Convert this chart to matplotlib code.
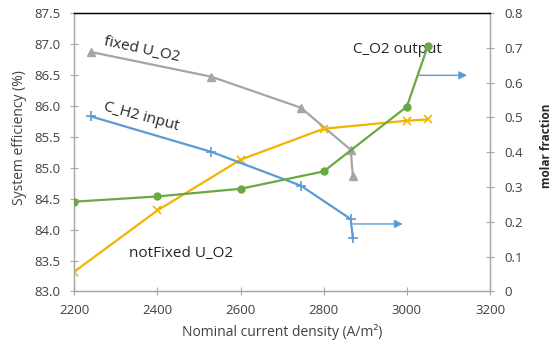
import matplotlib.pyplot as plt

plt.rcParams['font.family'] = ['Open Sans', 'DejaVu Sans']

# current density (A/m2) and values
x_fixed = [2240, 2530, 2745, 2865, 2870]
eff_fixed = [86.87, 86.47, 85.97, 85.29, 84.87]

x_notfixed = [2200, 2400, 2600, 2800, 3000, 3050]
eff_notfixed = [83.32, 84.31, 85.13, 85.63, 85.76, 85.78]

x_h2 = [2240, 2530, 2745, 2865, 2870]
c_h2 = [0.503, 0.401, 0.304, 0.208, 0.153]

x_o2 = [2200, 2400, 2600, 2800, 3000, 3050]
c_o2 = [0.258, 0.273, 0.295, 0.345, 0.531, 0.704]

# arrows pointing to the right axis: (x start, x end, y)
arrows = [(2870, 2990, 0.194), (3029, 3145, 0.621)]

gray = '#A5A5A5'
blue = '#5B9BD5'
gold = '#F2B400'
green = '#6AA843'
axis_gray = '#A6A6A6'

fig = plt.figure(figsize=(5.56, 3.47), dpi=100)
ax = fig.add_axes([0.1336, 0.16, 0.7477, 0.8025])
ax2 = ax.twinx()

ax.plot(x_fixed, eff_fixed, color=gray, lw=1.6, marker='^', ms=5.5, zorder=3)
ax.plot(x_notfixed, eff_notfixed, color=gold, lw=1.6, marker='x', ms=6, mew=1.2, zorder=3)
ax2.plot(x_h2, c_h2, color=blue, lw=1.6, marker='+', ms=7, mew=1.2, zorder=3)
ax2.plot(x_o2, c_o2, color=green, lw=1.6, marker='o', ms=5, zorder=3)

for x0, x1, yy in arrows:
    ax2.annotate('', xy=(x1, yy), xytext=(x0, yy),
                 arrowprops=dict(arrowstyle='-|>', color=blue, lw=1.0,
                                 mutation_scale=12, shrinkA=0, shrinkB=0))

ax.set_xlim(2200, 3200)
ax.set_ylim(83.0, 87.5)
ax2.set_ylim(0, 0.8)
ax.set_xticks(range(2200, 3201, 200))
ax.set_yticks([83.0 + 0.5 * i for i in range(10)])
ax.set_yticklabels([f'{83.0 + 0.5 * i:.1f}' for i in range(10)])
ax2.set_yticks([0.1 * i for i in range(9)])
ax2.set_yticklabels(['0'] + [f'{0.1 * i:.1f}' for i in range(1, 9)])

for a in (ax, ax2):
    for s in a.spines.values():
        s.set_color(axis_gray)
        s.set_linewidth(0.9)
    a.spines['top'].set_color('black')
    a.tick_params(direction='inout', length=6, width=0.8, color=axis_gray,
                  labelsize=9.5, labelcolor='#404040', pad=7)
ax.tick_params(axis='x', pad=6)

ax.set_xlabel('Nominal current density (A/m²)', fontsize=10, color='#404040')
ax.set_ylabel('System efficiency (%)', fontsize=10, color='#404040')
ax2.set_ylabel('molar fraction', fontsize=8.5, fontweight='bold', color='#262626')
ax.xaxis.set_label_coords(0.5, -0.118)
ax.yaxis.set_label_coords(-0.113, 0.553)
ax2.yaxis.set_label_coords(1.12, 0.524)

ax.text(2363, 86.91, 'fixed U_O2', fontsize=11, rotation=-12, ha='center', va='center', color='#262626')
ax.text(2361, 85.82, 'C_H2 input', fontsize=11, rotation=-15, ha='center', va='center', color='#262626')
ax.text(2978, 86.91, 'C_O2 output', fontsize=11, ha='center', va='center', color='#262626')
ax.text(2457, 83.62, 'notFixed U_O2', fontsize=11, ha='center', va='center', color='#262626')

fig.savefig('out.png', dpi=100)
